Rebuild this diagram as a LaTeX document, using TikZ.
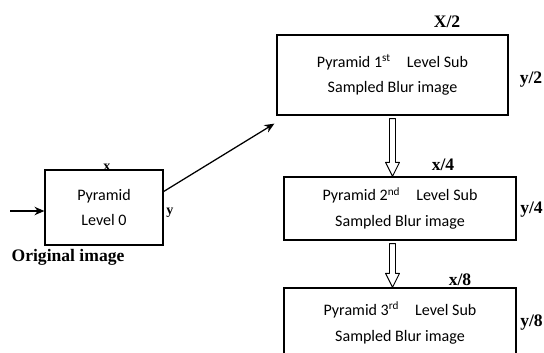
\documentclass[tikz,border=0pt]{standalone}
\usepackage{fontspec}
\setmainfont{Liberation Serif}
\newfontfamily\boxfont{Carlito}
\usetikzlibrary{arrows.meta}

\begin{document}
\begin{tikzpicture}[
  x=0.025cm,
  y=-0.025cm,
  every node/.style={black},
  stagebox/.style={draw, line width=0.9pt, inner sep=0pt, align=center,
    font=\boxfont\fontsize{11.4}{18.4}\selectfont},
  sizelabel/.style={font=\bfseries\fontsize{12.5}{14}\selectfont, inner sep=0pt},
  feed/.style={line width=0.9pt, -{Stealth[length=7pt, width=6pt]}},
  hollowarrow/.style={line width=0.7pt, line join=round, to path={
    ([shift={(-3,3)}]\tikztostart) -- ([shift={(-3,-14)}]\tikztotarget)
    -- ([shift={(-7,-14)}]\tikztotarget) -- (\tikztotarget)
    -- ([shift={(7,-14)}]\tikztotarget) -- ([shift={(3,-14)}]\tikztotarget)
    -- ([shift={(3,3)}]\tikztostart) -- cycle}}
]
  % ---- page size, pixels of the reference, y downwards
  \useasboundingbox (0,0) rectangle (544,353);

  % ---- the four pyramid levels -----------------------------------------
  \node[stagebox, minimum width=2.95cm, minimum height=1.875cm] (lvlzero)
    at (104,207.5) {Pyramid\\Level 0};
  \node[stagebox, minimum width=5.775cm, minimum height=2cm] (lvlone)
    at (392.5,75) {Pyramid 1\textsuperscript{st}\hspace{1em}Level Sub\\Sampled Blur image};
  \node[stagebox, minimum width=5.8cm, minimum height=1.575cm] (lvltwo)
    at (400,208.5) {Pyramid 2\textsuperscript{nd}\hspace{1em}Level Sub\\Sampled Blur image};
  \node[stagebox, minimum width=5.8cm, minimum height=1.75cm] (lvlthree)
    at (400,323) {Pyramid 3\textsuperscript{rd}\hspace{1em}Level Sub\\Sampled Blur image};

  % ---- image sizes -----------------------------------------------------
  \node[sizelabel, font=\bfseries\fontsize{10}{12}\selectfont] (sizezerox) at (107,167) {x};
  \node[sizelabel, font=\bfseries\fontsize{10}{12}\selectfont] (sizezeroy) at (170,213) {y};
  \node[sizelabel] (sizeonex)   at (447,22)  {X/2};
  \node[sizelabel] (sizeoney)   at (531,80)  {y/2};
  \node[sizelabel] (sizetwox)   at (443,165) {x/4};
  \node[sizelabel, anchor=east] (sizetwoy) at (543,210) {y/4};
  \node[sizelabel] (sizethreex) at (460,280) {x/8};
  \node[sizelabel, anchor=east] (sizethreey) at (543,323) {y/8};

  % ---- input -----------------------------------------------------------
  \node[font=\bfseries\fontsize{12.5}{14}\selectfont, inner sep=0pt] (srcname)
    at (68,257) {Original image};
  \coordinate (srcin) at (10,211);
  \draw[feed] (srcin) -- (srcin -| lvlzero.west);

  % ---- level 0 to level 1 ----------------------------------------------
  \coordinate (lvlonein) at ([shift={(-2,8)}]lvlone.south west);
  \draw[feed] (lvlzero.15) -- (lvlonein);

  % ---- sub sampling steps ----------------------------------------------
  \coordinate (dropendone) at (lvlone.south |- lvltwo.north);
  \coordinate (dropstarttwo) at (lvlone.south |- lvltwo.south);
  \coordinate (dropendtwo) at (lvlone.south |- lvlthree.north);
  \draw[hollowarrow] (lvlone.south) to (dropendone);
  \draw[hollowarrow] (dropstarttwo) to (dropendtwo);
\end{tikzpicture}
\end{document}
